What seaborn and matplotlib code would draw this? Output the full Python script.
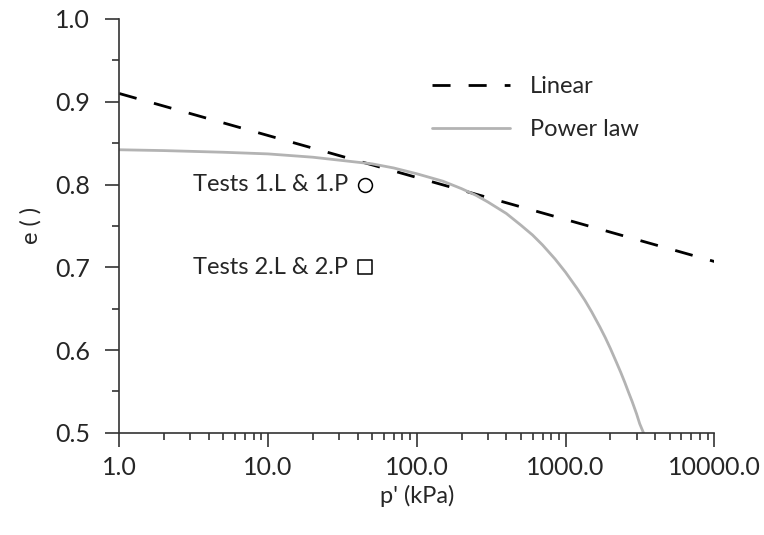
import numpy as np
import pandas as pd
import matplotlib
matplotlib.use("Agg")
import matplotlib.pyplot as plt
import matplotlib.ticker as mticker
import seaborn as sns

# compression lines
linear_p = [1.0, 10000.0]
linear_e = [0.91, 0.707]

power_p = [1, 2, 5, 10, 20, 50, 70, 100, 150, 200, 250, 300, 400, 500, 600,
           700, 850, 1000, 1200, 1350, 1500, 1700, 1850, 2000, 2200, 2350,
           2500, 2650, 2800, 3000, 3150, 3340]
power_e = [0.842, 0.841, 0.839, 0.837, 0.833, 0.825, 0.820, 0.813, 0.804,
           0.795, 0.787, 0.779, 0.765, 0.751, 0.739, 0.727, 0.710, 0.694,
           0.674, 0.660, 0.646, 0.628, 0.615, 0.602, 0.585, 0.573, 0.561,
           0.549, 0.538, 0.523, 0.511, 0.500]

# test initial states
test_labels = ["Tests 1.L & 1.P", "Tests 2.L & 2.P"]
test_p = [45.0, 45.0]
test_e = [0.80, 0.70]
test_markers = ["o", "s"]

x_ticks = [1.0, 10.0, 100.0, 1000.0, 10000.0]
y_ticks = [0.5, 0.6, 0.7, 0.8, 0.9, 1.0]

sns.set_theme(style="ticks")
plt.rcParams["font.family"] = ["Lato", "DejaVu Sans"]

fig, ax = plt.subplots(figsize=(7.64, 5.35), dpi=100)
fig.subplots_adjust(left=0.156, right=0.935, bottom=0.191, top=0.9645)

lin = pd.DataFrame({"p": linear_p, "e": linear_e})
pw = pd.DataFrame({"p": power_p, "e": power_e})

sns.lineplot(data=lin, x="p", y="e", ax=ax, color="black", lw=2.0,
             label="Linear", linestyle=(0, (6.5, 6.5)))
sns.lineplot(data=pw, x="p", y="e", ax=ax, color="#b3b3b3", lw=2.0,
             label="Power law")

for lab, p, e, m in zip(test_labels, test_p, test_e, test_markers):
    ax.scatter([p], [e], marker=m, s=100, facecolors="white",
               edgecolors="black", linewidths=1.1, zorder=5)
    ax.annotate(lab, xy=(p, e), xytext=(-12, 0), textcoords="offset points",
                ha="right", va="center", fontsize=17)

ax.set_xscale("log")
ax.set_xlim(1, 10000)
ax.set_ylim(0.5, 1.0)
ax.set_xticks(x_ticks)
ax.xaxis.set_major_formatter(mticker.FormatStrFormatter("%.1f"))
ax.xaxis.set_minor_locator(mticker.LogLocator(base=10, subs=np.arange(2, 10)))
ax.xaxis.set_minor_formatter(mticker.NullFormatter())
ax.set_yticks(y_ticks)
ax.yaxis.set_major_formatter(mticker.FormatStrFormatter("%.1f"))
ax.yaxis.set_minor_locator(mticker.MultipleLocator(0.05))

ax.tick_params(axis="both", which="major", length=10, width=1.2,
               labelsize=18, color="#333333", pad=7)
ax.tick_params(axis="both", which="minor", length=5, width=1.2,
               color="#333333")
ax.tick_params(axis="y", which="major", pad=11)

for s in ["top", "right"]:
    ax.spines[s].set_visible(False)
for s in ["left", "bottom"]:
    ax.spines[s].set_color("#333333")
    ax.spines[s].set_linewidth(1.2)

ax.set_xlabel("p' (kPa)", fontsize=17, labelpad=4)
ax.set_ylabel("e ( )", fontsize=17, labelpad=10)

leg = ax.legend(loc="upper left", bbox_to_anchor=(0.51, 0.885), frameon=False,
                fontsize=17, handlelength=3.3, handletextpad=0.85,
                labelspacing=0.95, borderaxespad=0)

fig.savefig("out.png", dpi=100)
